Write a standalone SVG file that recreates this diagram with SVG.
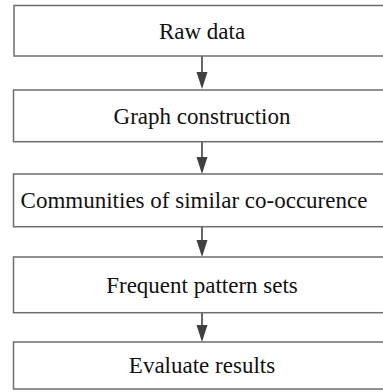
<svg xmlns="http://www.w3.org/2000/svg" width="383" height="392" viewBox="0 0 383 392">
  <style>
    .box { fill: #ffffff; stroke: #6e6e6e; stroke-width: 1.5; }
    .label { font-family: 'Liberation Serif', 'Times New Roman', serif; font-size: 23px; fill: #111111; text-anchor: middle; }
    .head { fill: #404040; }
    .link { stroke: #404040; stroke-width: 1.6; fill: none; }
  </style>
  <rect width="383" height="392" fill="#ffffff"/>

  <g id="connectors">
    <line class="link" x1="202" y1="56" x2="202" y2="73" />
    <path class="head" d="M196.5,72 L207.5,72 L202,89 Z"/>
    <line class="link" x1="202" y1="142" x2="202" y2="158" />
    <path class="head" d="M196.5,157 L207.5,157 L202,174 Z"/>
    <line class="link" x1="202" y1="227" x2="202" y2="241" />
    <path class="head" d="M196.5,240 L207.5,240 L202,257 Z"/>
    <line class="link" x1="202" y1="313" x2="202" y2="326" />
    <path class="head" d="M196.5,325 L207.5,325 L202,342 Z"/>
  </g>

  <g id="raw-data">
    <rect class="box" x="14" y="5.5" width="380" height="50.5"/>
    <text class="label" x="202" y="38.5">Raw data</text>
  </g>
  <g id="graph-construction">
    <rect class="box" x="13.5" y="90" width="380" height="51.7"/>
    <text class="label" x="202" y="124">Graph construction</text>
  </g>
  <g id="communities">
    <rect class="box" x="13.5" y="174" width="380" height="52.7"/>
    <text class="label" x="194" y="208">Communities of similar co-occurence</text>
  </g>
  <g id="frequent-patterns">
    <rect class="box" x="13.5" y="257" width="380" height="55.7"/>
    <text class="label" x="202" y="292.5">Frequent pattern sets</text>
  </g>
  <g id="evaluate-results">
    <rect class="box" x="13.5" y="342" width="380" height="47"/>
    <text class="label" x="202" y="372.5">Evaluate results</text>
  </g>
</svg>
